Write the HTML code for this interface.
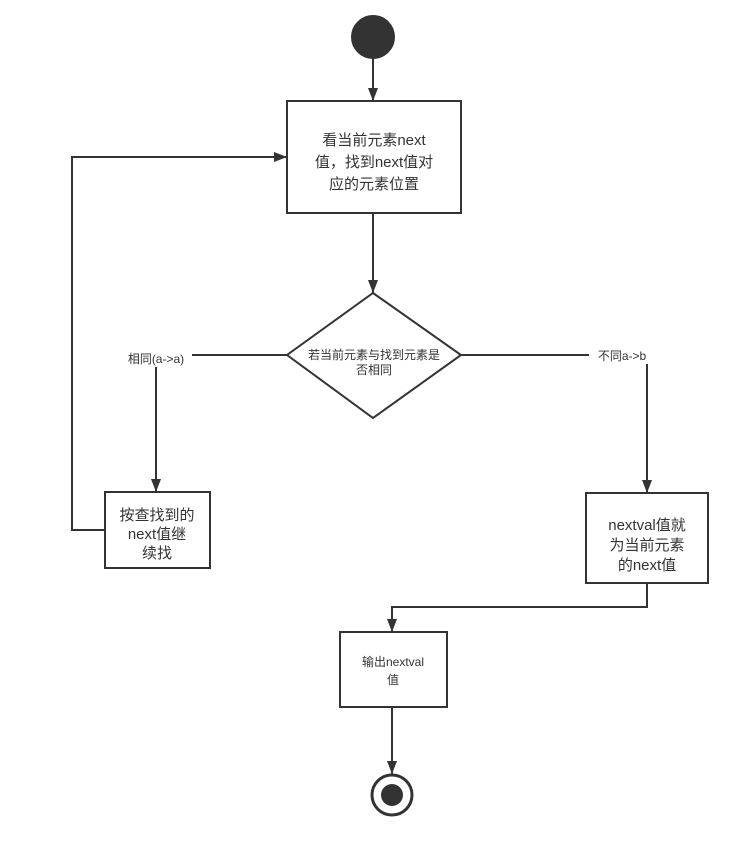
<!DOCTYPE html>
<html><head><meta charset="utf-8"><style>
body{margin:0;background:#fff;}
svg text{font-family:"Liberation Sans","Noto Sans CJK SC",sans-serif;fill:#333;}
</style></head><body>
<svg width="752" height="843" viewBox="0 0 752 843" xmlns="http://www.w3.org/2000/svg">
<defs><marker id="a" markerWidth="10" markerHeight="10" refX="9" refY="5" orient="auto" markerUnits="userSpaceOnUse"><path d="M0,0 L10,5 L0,10 Z" fill="#333"/></marker>
<marker id="b" markerWidth="14" markerHeight="14" refX="13" refY="7" orient="auto" markerUnits="userSpaceOnUse"><path d="M0,2 L13,7 L0,12 Z" fill="#333"/></marker></defs>
<g stroke="#333" stroke-width="2" fill="none">
<circle cx="373" cy="37" r="21" fill="#333"/>
<line x1="373" y1="58" x2="373" y2="101" marker-end="url(#b)"/>
<rect x="287" y="101" width="174" height="112" fill="#fff"/>
<line x1="373" y1="213" x2="373" y2="293" marker-end="url(#b)"/>
<polygon points="373,293 461,355 373,418 287,355" fill="#fff"/>
<polyline points="287,355 156,355 156,492" marker-end="url(#b)"/>
<polyline points="461,355 647,355 647,493" marker-end="url(#b)"/>
<rect x="105" y="492" width="105" height="76" fill="#fff"/>
<polyline points="105,530 72,530 72,157 287,157" marker-end="url(#b)"/>
<rect x="586" y="493" width="122" height="90" fill="#fff"/>
<polyline points="647,583 647,607 392,607 392,632" marker-end="url(#b)"/>
<rect x="340" y="632" width="107" height="75" fill="#fff"/>
<line x1="392" y1="707" x2="392" y2="774" marker-end="url(#b)"/>
<circle cx="392" cy="795" r="20" fill="#fff" stroke-width="3"/>
<circle cx="392" cy="795" r="11" fill="#333" stroke="none"/>
</g>
<g font-size="15" text-anchor="middle">
<text x="374" y="145">看当前元素next</text>
<text x="374" y="167">值，找到next值对</text>
<text x="374" y="189">应的元素位置</text>
<text x="157" y="520">按查找到的</text>
<text x="157" y="539">next值继</text>
<text x="157" y="558">续找</text>
<text x="647" y="530">nextval值就</text>
<text x="647" y="550">为当前元素</text>
<text x="647" y="570">的next值</text>
</g>
<g font-size="12" text-anchor="middle">
<text x="374" y="359">若当前元素与找到元素是</text>
<text x="374" y="374">否相同</text>
<text x="393" y="666">输出nextval</text>
<text x="393" y="684">值</text>
</g>
<rect x="121" y="350" width="71" height="17" fill="#fff"/>
<text x="156" y="363" font-size="12" text-anchor="middle">相同(a-&gt;a)</text>
<rect x="589" y="347" width="66" height="17" fill="#fff"/>
<text x="622" y="360" font-size="12" text-anchor="middle">不同a-&gt;b</text>
</svg>
</body></html>
